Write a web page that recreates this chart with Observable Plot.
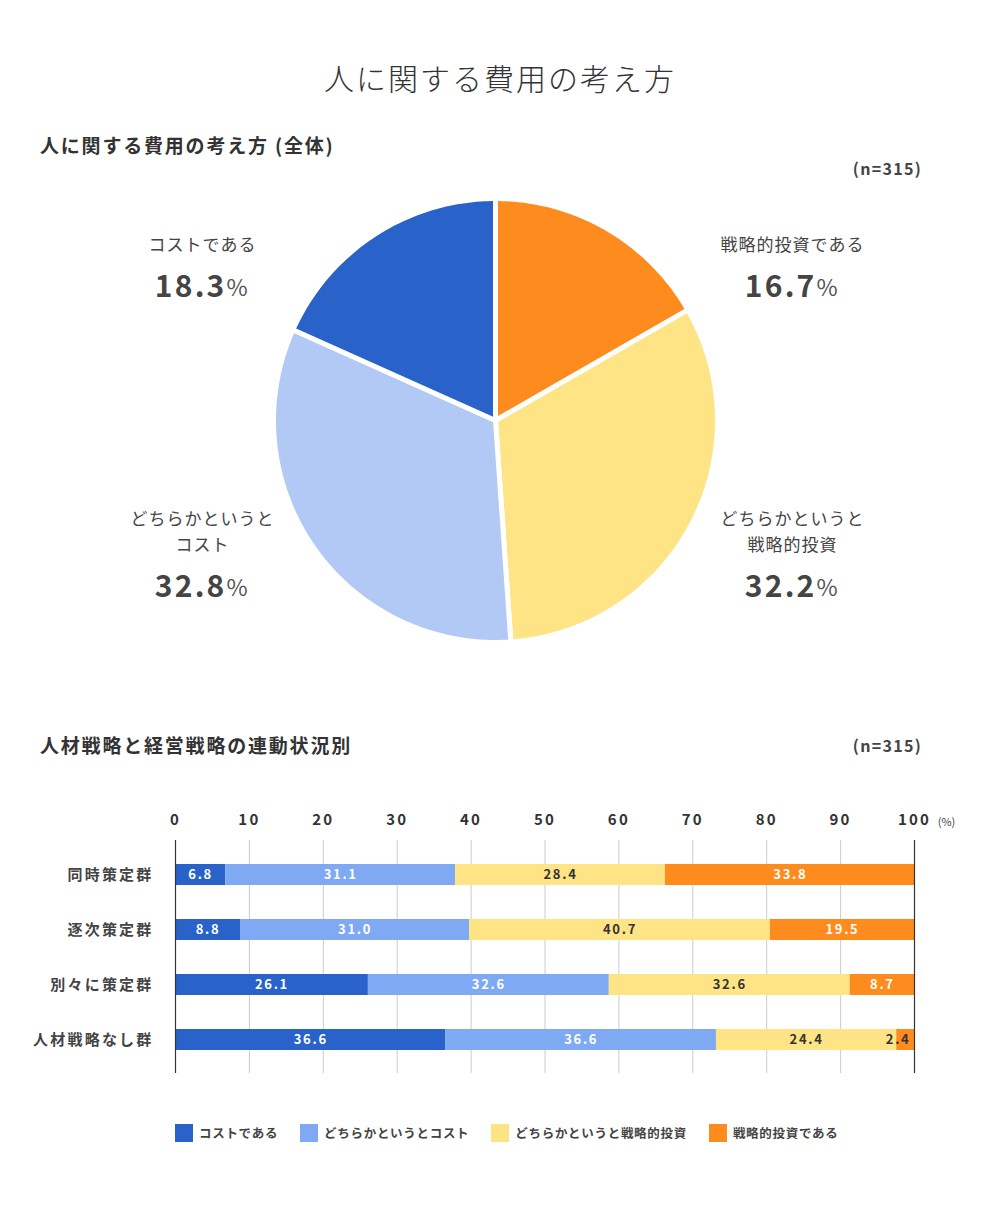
<!DOCTYPE html>
<html>
<head>
<meta charset="utf-8">
<script src="https://cdn.jsdelivr.net/npm/d3@7"></script>
<script src="https://cdn.jsdelivr.net/npm/@observablehq/plot@0.6"></script>
<style>
  body { margin: 0; background: #fff; font-family: "Noto Sans CJK JP", "Noto Sans", sans-serif; color: #333; }
  #page { position: relative; width: 1000px; height: 1211px; overflow: hidden; }
  .abs { position: absolute; white-space: nowrap; }
  #title { left: 0; width: 1000px; text-align: center; top: 60px; font-size: 30px; line-height: 34px; font-weight: 300; letter-spacing: 2px; color: #333; }
  .h2 { left: 40px; font-size: 19px; line-height: 22px; font-weight: 700; letter-spacing: 1.8px; color: #333; }
  .n { right: 78px; font-size: 16px; line-height: 18px; font-weight: 700; letter-spacing: 1.3px; color: #444; }
  #pie { left: 0; top: 180px; }
  #bar { left: 0; top: 790px; }
  #legend { left: 175px; top: 1123px; display: flex; align-items: center; font-size: 12.5px; font-weight: 700; letter-spacing: 0.7px; color: #444; }
  .item { display: flex; align-items: center; margin-right: 22px; }
  .sw { width: 18px; height: 18px; margin-right: 6px; }
  svg g[font-size="17"] { letter-spacing: 1px; }
  svg g[font-size="30"] { letter-spacing: 2.2px; }
  svg g[font-size="15"] { letter-spacing: 2.2px; }
  svg g[font-size="13"] { letter-spacing: 1.7px; }
</style>
</head>
<body>
<div id="page">
  <div id="title" class="abs">人に関する費用の考え方</div>
  <div class="abs h2" style="top:134px">人に関する費用の考え方 (全体)</div>
  <div class="abs n" style="top:159px">(n=315)</div>
  <div id="pie" class="abs"></div>
  <div class="abs h2" style="top:734px">人材戦略と経営戦略の連動状況別</div>
  <div class="abs n" style="top:736px">(n=315)</div>
  <div id="bar" class="abs"></div>
  <div id="legend" class="abs"></div>
</div>
<script>
// ---------- data ----------
const pieCategories = ["戦略的投資である", "どちらかというと戦略的投資", "どちらかというとコスト", "コストである"];
const pieValues = [16.7, 32.2, 32.8, 18.3];
const pieLabelText = ["戦略的投資である", "どちらかというと\n戦略的投資", "どちらかというと\nコスト", "コストである"];
const pieColors = ["#FD8B1E", "#FEE485", "#B1C9F4", "#2962C8"];

const barGroups = ["同時策定群", "逐次策定群", "別々に策定群", "人材戦略なし群"];
const barCategories = ["コストである", "どちらかというとコスト", "どちらかというと戦略的投資", "戦略的投資である"];
const costValues = [6.8, 8.8, 26.1, 36.6];
const ratherCostValues = [31.1, 31.0, 32.6, 36.6];
const ratherInvestValues = [28.4, 40.7, 32.6, 24.4];
const investValues = [33.8, 19.5, 8.7, 2.4];
const barColors = ["#2962C8", "#7FA9F2", "#FEE485", "#FD8B1E"];
const xTicks = [0, 10, 20, 30, 40, 50, 60, 70, 80, 90, 100];

const FONT = '"Noto Sans CJK JP", "Noto Sans", sans-serif';

// ---------- pie ----------
const W = 1000, H = 480, CX = 495, CY = 240, PX = 222;
const total = d3.sum(pieValues);
let acc = 0;
const slices = pieCategories.map((c, i) => {
  const a0 = acc / total * 2 * Math.PI;
  acc += pieValues[i];
  const a1 = acc / total * 2 * Math.PI;
  return {c, v: pieValues[i], a0, a1, mid: (a0 + a1) / 2, label: pieLabelText[i]};
});
const polyPts = slices.flatMap(s => {
  const n = Math.max(2, Math.ceil((s.a1 - s.a0) / (Math.PI / 180)));
  const pts = [{c: s.c, x: 0, y: 0}];
  for (let k = 0; k <= n; k++) {
    const a = s.a0 + (s.a1 - s.a0) * k / n;
    pts.push({c: s.c, x: Math.sin(a), y: -Math.cos(a)});
  }
  return pts;
});
// label layout: beside the pie, on the side of the slice's mid angle
slices.forEach(s => {
  const side = Math.sin(s.mid) >= 0 ? 1 : -1;
  const upper = Math.cos(s.mid) > 0;
  s.lx = (side * 295 + 2) / PX;
  s.vy = (upper ? -133 : 167) / PX;
});
const nameRows = slices.flatMap(s => {
  const lines = s.label.split("\n");
  return lines.map((t, i) => ({text: t, x: s.lx, y: s.vy - (42 + (lines.length - 1 - i) * 26) / PX}));
});

const pie = Plot.plot({
  width: W, height: H,
  margin: 0,
  x: {domain: [-CX / PX, (W - CX) / PX], range: [0, W], axis: null},
  y: {domain: [-CY / PX, (H - CY) / PX], range: [0, H], axis: null},
  color: {domain: pieCategories, range: pieColors},
  style: {fontFamily: FONT, background: "transparent"},
  marks: [
    Plot.line(polyPts, {x: "x", y: "y", z: "c", fill: "c", stroke: "white", strokeWidth: 5, strokeLinejoin: "round", curve: "linear-closed"}),
    Plot.text(nameRows, {x: "x", y: "y", text: "text", fontSize: 17, fill: "#444"}),
    Plot.text(slices, {x: "lx", y: "vy", text: d => d.v.toFixed(1), textAnchor: "end", dx: 24, fontSize: 30, fontWeight: "bold", fill: "#444"}),
    Plot.text(slices, {x: "lx", y: "vy", text: d => "%", textAnchor: "start", dx: 24, dy: 1, fontSize: 23, fill: "#555"})
  ]
});
document.getElementById("pie").appendChild(pie);

// ---------- stacked bars ----------
const seriesValues = [costValues, ratherCostValues, ratherInvestValues, investValues];
const barData = barGroups.flatMap((g, i) => barCategories.map((c, j) => ({group: g, cat: c, value: seriesValues[j][i]})));

const bar = Plot.plot({
  width: 1000, height: 290,
  marginTop: 50, marginBottom: 7, marginLeft: 175, marginRight: 86,
  x: {domain: [0, 100]},
  y: {domain: barGroups, paddingInner: 0.62, paddingOuter: 0.417},
  color: {domain: barCategories, range: barColors},
  style: {fontFamily: FONT, background: "transparent", overflow: "visible"},
  marks: [
    Plot.gridX(xTicks.slice(1, -1), {stroke: "#ccc", strokeOpacity: 1}),
    Plot.barX(barData, {x: "value", y: "group", z: "cat", fill: "cat"}),
    Plot.ruleX([0, 100], {stroke: "#333", strokeWidth: 1.2}),
    Plot.axisX(xTicks, {anchor: "top", tickSize: 0, tickPadding: 16, fontSize: 15, fontWeight: "bold", fill: "#333", label: null}),
    Plot.text(["(%)"], {x: 100, frameAnchor: "top", dx: 32, dy: -22, fontSize: 11, fill: "#444"}),
    Plot.axisY({tickSize: 0, tickPadding: 22, fontSize: 15, fontWeight: "bold", fill: "#444", label: null}),
    Plot.text(barData, Plot.stackX({x: "value", y: "group", z: "cat",
      text: d => (d.value >= 5 && d.cat !== barCategories[2]) ? d.value.toFixed(1) : "",
      fill: "white", fontSize: 13, fontWeight: "bold"})),
    Plot.text(barData, Plot.stackX({x: "value", y: "group", z: "cat",
      text: d => (d.value >= 5 && d.cat === barCategories[2]) ? d.value.toFixed(1) : "",
      fill: "#333", fontSize: 13, fontWeight: "bold"})),
    Plot.text(barData, Plot.stackX2({x: "value", y: "group", z: "cat",
      text: d => d.value < 5 ? d.value.toFixed(1) : "",
      textAnchor: "end", dx: -4, fill: "#333", fontSize: 13, fontWeight: "bold"}))
  ]
});
document.getElementById("bar").appendChild(bar);

// ---------- legend ----------
const legend = document.getElementById("legend");
barCategories.forEach((c, i) => {
  const item = document.createElement("div");
  item.className = "item";
  const sw = document.createElement("div");
  sw.className = "sw";
  sw.style.background = barColors[i];
  const t = document.createElement("span");
  t.textContent = c;
  item.appendChild(sw);
  item.appendChild(t);
  legend.appendChild(item);
});
</script>
</body>
</html>
